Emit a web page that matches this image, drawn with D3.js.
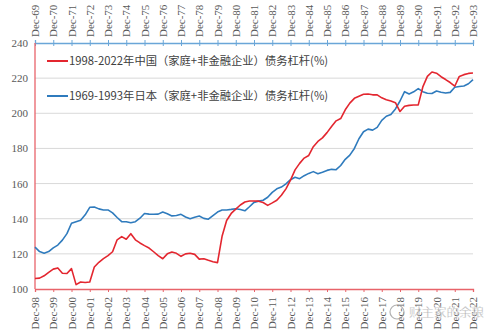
<!DOCTYPE html>
<html><head><meta charset="utf-8">
<script src="https://cdn.jsdelivr.net/npm/d3@7"></script>
<style>
html,body{margin:0;padding:0;background:#fff;}
svg{display:block;}
</style></head>
<body>
<svg id="chart" width="499" height="336"></svg>
<script>
// Quarterly debt leverage (%), Dec of start year through Dec of end year
const chinaLabel = "1998-2022年中国（家庭+非金融企业）债务杠杆(%)";
const japanLabel = "1969-1993年日本（家庭+非金融企业）债务杠杆(%)";
const chinaValues = [106,106.2,107.5,109.5,111.3,112,109,108.8,111.6,102.5,104,103.7,104,112.5,115.2,117.3,119,121.2,128,129.8,128.3,131.5,128,126.2,124.7,123.3,121.2,119,117.2,120,121,120.3,118.6,120,120.3,119.7,117,117.2,116.3,115.5,115,130,139,143,145.5,147.8,149.5,150.1,150.1,150,149.2,147.6,149,150.5,153.4,157,162,167.8,171.5,174.5,176,181,184,186,189,192.5,195.7,197,202,205.8,208.5,209.7,210.8,211,210.5,210.5,208.8,207.7,207,206,201,204,204.5,204.7,204.8,215,221,223.5,222.8,220.8,219.2,217.5,215.4,221,222,222.7,222.9];
const japanValues = [123.8,121.3,120.4,121.3,123.4,125,127.8,131.5,137.4,138.3,139.1,142.2,146.5,146.7,145.6,145,145,143.3,140.7,138.3,138.3,137.7,138.3,140.3,143,142.6,142.5,142.6,143.8,142.8,141.6,141.8,142.5,141,140,140.8,141.5,140.2,139.7,141.8,143.8,145,145,145.3,145.7,145.2,144.5,146.8,149.3,150,150.5,152.2,155,157,158,159.8,162.2,163.6,162.8,164.5,165.8,166.8,165.6,166.5,167.5,168.1,167.9,170.3,173.8,176.2,180,185.5,189.5,191,190.4,192,196,198.3,199.3,202.5,207,212.3,211,212.2,214,212.3,211.4,211.3,212.7,212,211.5,211.9,214.8,215.2,215.5,216.8,219.2];
const bottomTickLabels = ["Dec-98","Dec-99","Dec-00","Dec-01","Dec-02","Dec-03","Dec-04","Dec-05","Dec-06","Dec-07","Dec-08","Dec-09","Dec-10","Dec-11","Dec-12","Dec-13","Dec-14","Dec-15","Dec-16","Dec-17","Dec-18","Dec-19","Dec-20","Dec-21","Dec-22"];
const topTickLabels = ["Dec-69","Dec-70","Dec-71","Dec-72","Dec-73","Dec-74","Dec-75","Dec-76","Dec-77","Dec-78","Dec-79","Dec-80","Dec-81","Dec-82","Dec-83","Dec-84","Dec-85","Dec-86","Dec-87","Dec-88","Dec-89","Dec-90","Dec-91","Dec-92","Dec-93"];
const yTicks = [100,120,140,160,180,200,220,240];
const watermark = "财主家的余粮";

const svg = d3.select("#chart");
const L = 35, R = 473, T = 43, B = 289;
const x = d3.scaleLinear().domain([0, chinaValues.length - 1]).range([L, R]);
const y = d3.scaleLinear().domain([100, 240]).range([B, T]);
const RED = "#e3262f", BLUE = "#2f7bbd";
const tickFont = "'Liberation Serif','Times New Roman',serif";

// gridlines
svg.append("g").selectAll("line").data(yTicks.filter(v => v > 100 && v < 240)).join("line")
  .attr("x1", L).attr("x2", R).attr("y1", d => y(d)).attr("y2", d => y(d))
  .attr("stroke", "#d9d9d9").attr("stroke-width", 1);

// y axis labels
const yAxis = svg.append("g").attr("transform", `translate(${L},0)`)
  .call(d3.axisLeft(y).tickValues(yTicks).tickSize(0).tickPadding(7));
yAxis.select(".domain").remove();
yAxis.selectAll("text").attr("font-family", tickFont).attr("font-size", 11).attr("fill", "#595959");

// bottom axis (China)
const bottomAxis = svg.append("g").attr("transform", `translate(0,${B})`)
  .call(d3.axisBottom(x).tickValues(bottomTickLabels.map((d, i) => i * 4)).tickSize(3)
    .tickFormat((d, i) => bottomTickLabels[i]));
bottomAxis.select(".domain").attr("stroke", "#e8636a").attr("stroke-width", 1.3);
bottomAxis.selectAll(".tick line").attr("stroke", "#e8636a");
bottomAxis.selectAll("text").attr("font-family", tickFont).attr("font-size", 11).attr("fill", "#595959")
  .attr("transform", "rotate(-90)").attr("text-anchor", "end").attr("dx", "-4").attr("dy", "0.32em").attr("y", 0).attr("x", -4);

// top axis (Japan)
const topAxis = svg.append("g").attr("transform", `translate(0,${T})`)
  .call(d3.axisTop(x).tickValues(topTickLabels.map((d, i) => i * 4)).tickSize(3)
    .tickFormat((d, i) => topTickLabels[i]));
topAxis.select(".domain").attr("stroke", "#6aa6d8").attr("stroke-width", 1.3);
topAxis.selectAll(".tick line").attr("stroke", "#6aa6d8").attr("y2", 3).attr("y1", -3);
topAxis.selectAll("text").attr("font-family", tickFont).attr("font-size", 11).attr("fill", "#595959")
  .attr("transform", "rotate(-90)").attr("text-anchor", "start").attr("x", 6).attr("y", 0).attr("dy", "0.32em");

// left axis line
svg.append("line").attr("x1", L).attr("x2", L).attr("y1", T).attr("y2", B)
  .attr("stroke", "#e8636a").attr("stroke-width", 1.3);

// series
const line = d3.line().x((d, i) => x(i)).y(d => y(d)).curve(d3.curveLinear);
svg.append("path").datum(japanValues).attr("d", line).attr("fill", "none")
  .attr("stroke", BLUE).attr("stroke-width", 1.6).attr("stroke-linejoin", "round");
svg.append("path").datum(chinaValues).attr("d", line).attr("fill", "none")
  .attr("stroke", RED).attr("stroke-width", 1.6).attr("stroke-linejoin", "round");

// legend
const legendFont = "'Noto Sans CJK SC','Noto Sans',sans-serif";
const legend = [{label: chinaLabel, color: RED, y: 61}, {label: japanLabel, color: BLUE, y: 96}];
const lg = svg.append("g").selectAll("g").data(legend).join("g");
lg.append("line").attr("x1", 47).attr("x2", 68).attr("y1", d => d.y).attr("y2", d => d.y)
  .attr("stroke", d => d.color).attr("stroke-width", 2);
lg.append("text").attr("x", 69).attr("y", d => d.y).attr("dy", "0.35em")
  .attr("font-family", legendFont).attr("font-size", 11.3).attr("fill", "#404040")
  .text(d => d.label);

// watermark
const wm = svg.append("g").attr("opacity", 0.75);
wm.append("circle").attr("cx", 397).attr("cy", 312).attr("r", 7).attr("fill", "none").attr("stroke", "#999").attr("stroke-width", 1.2);
wm.append("text").attr("x", 409).attr("y", 313).attr("dy", "0.35em")
  .attr("font-family", legendFont).attr("font-size", 12.5).attr("fill", "#8a8a8a")
  .attr("stroke", "#fff").attr("stroke-width", 0.3).text(watermark);
</script>
</body></html>
